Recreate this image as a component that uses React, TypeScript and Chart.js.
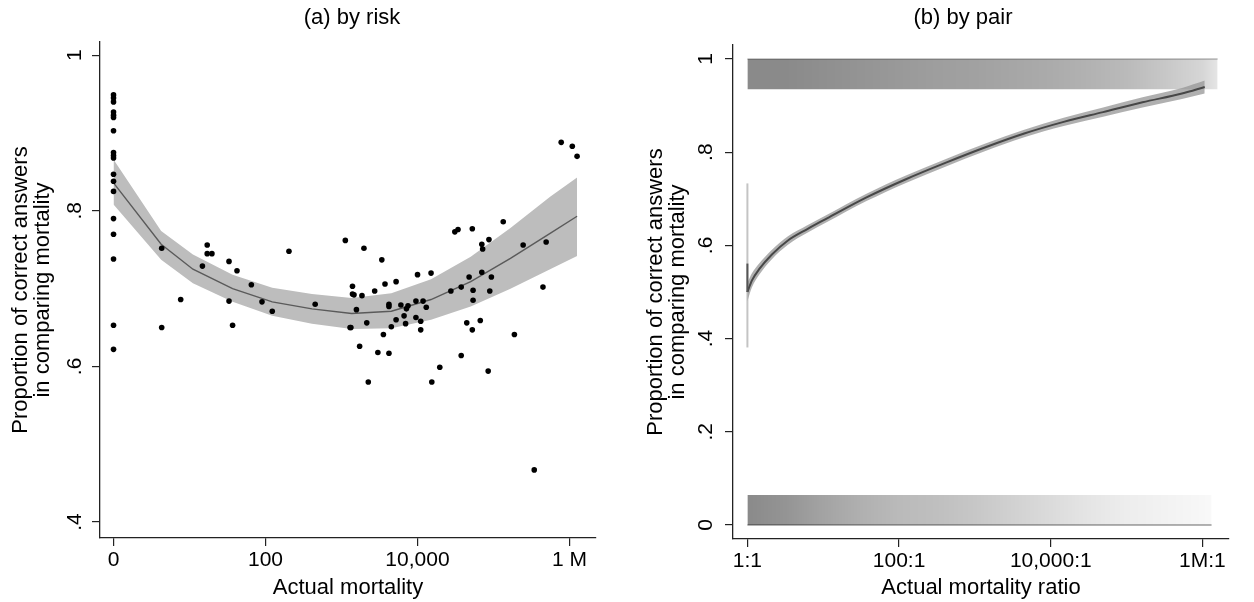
import React, { useEffect, useRef } from "react";
import { Chart, registerables } from "chart.js";

Chart.register(...registerables);

// ---------- Panel (a): by risk ----------
// x = log10(actual mortality + 1), y = proportion correct
const riskLogMortality = [
  0, 0, 0, 0, 0, 0, 0, 0, 0, 0, 0, 0, 0, 0, 0, 0, 0, 0,
  0.634, 0.634, 0.884, 1.17, 1.233, 1.233, 1.295, 1.52, 1.52, 1.567, 1.625, 1.814, 1.954, 2.089, 2.309, 2.654, 3.051,
  3.296, 3.531, 3.145, 3.145, 3.165, 3.27, 3.197, 3.437, 3.573, 3.719, 4.001, 4.179, 3.625, 3.625, 3.782, 3.855, 3.876, 3.98,
  4.074, 4.116, 3.824, 3.98, 4.043, 4.043, 3.844, 3.719, 3.656, 3.552, 3.333, 3.113, 3.124, 3.239, 3.479, 3.625, 3.353, 4.189,
  4.294, 4.576, 4.931, 5.276, 4.649, 4.722, 4.827, 4.44, 4.576, 4.68, 4.847, 4.973, 4.732, 4.732, 4.952, 4.492, 4.534, 4.722,
  4.847, 4.858, 4.941, 5.129, 5.391, 5.694, 5.652, 5.892, 6.038, 6.101, 5.537,
];
const riskProportion = [
  0.949, 0.945, 0.94, 0.927, 0.923, 0.92, 0.903, 0.875, 0.871, 0.868, 0.847, 0.838, 0.825, 0.79, 0.77, 0.738, 0.653, 0.622,
  0.752, 0.65, 0.686, 0.729, 0.756, 0.745, 0.745, 0.735, 0.684, 0.653, 0.723, 0.705, 0.683, 0.671, 0.748, 0.68, 0.762,
  0.752, 0.737, 0.703, 0.693, 0.692, 0.691, 0.673, 0.697, 0.706, 0.709, 0.718, 0.72, 0.68, 0.677, 0.679, 0.674, 0.678, 0.684,
  0.684, 0.676, 0.665, 0.663, 0.658, 0.647, 0.655, 0.66, 0.651, 0.641, 0.656, 0.65, 0.65, 0.626, 0.618, 0.617, 0.58, 0.58,
  0.599, 0.614, 0.594, 0.641, 0.656, 0.647, 0.659, 0.697, 0.702, 0.715, 0.721, 0.715, 0.698, 0.685, 0.697, 0.773, 0.776, 0.777,
  0.757, 0.751, 0.763, 0.786, 0.756, 0.76, 0.702, 0.888, 0.883, 0.87, 0.467,
];
const riskFitX = [0, 0.627, 1.045, 1.567, 2.089, 2.612, 3.134, 3.656, 4.179, 4.701, 5.224, 5.746, 6.101];
const riskFitY = [0.836, 0.757, 0.725, 0.7, 0.683, 0.674, 0.668, 0.671, 0.686, 0.709, 0.739, 0.771, 0.793];
const riskFitLo = [0.808, 0.737, 0.707, 0.683, 0.665, 0.655, 0.648, 0.649, 0.66, 0.677, 0.7, 0.725, 0.742];
const riskFitHi = [0.866, 0.774, 0.744, 0.718, 0.701, 0.693, 0.688, 0.694, 0.712, 0.741, 0.778, 0.818, 0.843];
const riskXTickValues = [0, 2, 4, 6];
const riskXTickLabels = ["0", "100", "10,000", "1 M"];
const riskYTickValues = [0.4, 0.6, 0.8, 1];
const riskYTickLabels = [".4", ".6", ".8", "1"];

// ---------- Panel (b): by pair ----------
// x = log10(actual mortality ratio)
const pairFitX = [0, 0.06, 0.16, 0.32, 0.53, 0.79, 1.05, 1.57, 2.09, 2.61, 3.13, 3.65, 4.17, 4.69, 5.21, 5.73, 6.03];
const pairFitY = [0.5, 0.525, 0.55, 0.58, 0.61, 0.635, 0.658, 0.703, 0.742, 0.777, 0.81, 0.84, 0.865, 0.886, 0.907, 0.926, 0.94];
const pairFitLo = [0.48, 0.51, 0.538, 0.57, 0.601, 0.627, 0.65, 0.695, 0.734, 0.769, 0.802, 0.832, 0.856, 0.876, 0.896, 0.914, 0.926];
const pairFitHi = [0.52, 0.54, 0.562, 0.59, 0.619, 0.643, 0.666, 0.711, 0.75, 0.785, 0.818, 0.848, 0.874, 0.896, 0.918, 0.938, 0.954];
const pairSameCI = [0.381, 0.733];
const pairSameFit = [0.5, 0.561];
// jittered individual answers, summarised as darkness (0..1) of the point cloud along x
const answerDensityX = [0, 0.5, 1, 1.5, 2, 2.5, 3, 3.5, 4, 4.5, 5, 5.5, 6, 6.2];
const correctDensity = [0.46, 0.46, 0.44, 0.42, 0.4, 0.38, 0.37, 0.35, 0.33, 0.3, 0.27, 0.22, 0.16, 0.1];
const wrongDensity = [0.46, 0.42, 0.36, 0.31, 0.27, 0.25, 0.22, 0.18, 0.14, 0.1, 0.07, 0.05, 0.03, 0.02];
const correctBand = [0.935, 1.0];
const wrongBand = [0.0, 0.0645];
const correctExtent = [0, 6.2];
const wrongExtent = [0, 6.12];
const pairXTickValues = [0, 2, 4, 6];
const pairXTickLabels = ["1:1", "100:1", "10,000:1", "1M:1"];
const pairYTickValues = [0, 0.2, 0.4, 0.6, 0.8, 1];
const pairYTickLabels = ["0", ".2", ".4", ".6", ".8", "1"];

const FONT = '"Liberation Sans", Arial, sans-serif';
const TICK_FS = 21;
const TITLE_FS = 22;

const panelText = {
  id: "panelText",
  afterDraw(chart: any, _args: any, opts: any) {
    const { ctx, chartArea, scales } = chart;
    ctx.save();
    ctx.fillStyle = "#000";
    ctx.textAlign = "center";
    ctx.textBaseline = "middle";
    ctx.font = `${TITLE_FS}px ${FONT}`;
    ctx.fillText(opts.title, (chartArea.left + chartArea.right) / 2 + (opts.titleDx || 0), opts.titleY);
    ctx.font = `${TICK_FS}px ${FONT}`;
    const ys = scales.y;
    opts.yValues.forEach((v: number, i: number) => {
      const py = ys.getPixelForValue(v);
      ctx.save();
      ctx.translate(chartArea.left - opts.yLabelOffset, py);
      ctx.rotate(-Math.PI / 2);
      ctx.fillText(opts.yLabels[i], 0, 0);
      ctx.restore();
    });
    ctx.restore();
  },
};

function densityFill(density: number[]) {
  return (c: any) => {
    const chart = c.chart;
    const xs = chart.scales && chart.scales.x;
    if (!chart.chartArea || !xs) return `rgba(0,0,0,${density[0]})`;
    const g = chart.ctx.createLinearGradient(xs.left, 0, xs.right, 0);
    const w = xs.right - xs.left;
    answerDensityX.forEach((v, i) => {
      const p = Math.min(1, Math.max(0, (xs.getPixelForValue(v) - xs.left) / w));
      g.addColorStop(p, `rgba(0,0,0,${density[i]})`);
    });
    return g;
  };
}

function axisCommon(tickValues: number[], labels: string[] | null) {
  return {
    type: "linear",
    offset: false,
    grid: { drawOnChartArea: false, drawTicks: true, tickLength: 8, color: "#222", lineWidth: 1.2, offset: false },
    border: { display: true, color: "#222", width: 1.3 },
    afterBuildTicks: (scale: any) => {
      scale.ticks = tickValues.map((v) => ({ value: v }));
    },
    ticks: labels
      ? {
          display: true,
          color: "#000",
          font: { size: TICK_FS, family: FONT },
          padding: 2,
          maxRotation: 0,
          minRotation: 0,
          callback: (v: any) => {
            const i = tickValues.indexOf(Number(v));
            return i >= 0 ? labels[i] : "";
          },
        }
      : { display: false },
  };
}

const yTitleText = ["Proportion of correct answers", "in comparing mortality"];

function riskConfig(): any {
  const scatterData = riskLogMortality.map((x, i) => ({ x, y: riskProportion[i] }));
  const fit = riskFitX.map((x, i) => ({ x, y: riskFitY[i] }));
  const lo = riskFitX.map((x, i) => ({ x, y: riskFitLo[i] }));
  const hi = riskFitX.map((x, i) => ({ x, y: riskFitHi[i] }));
  return {
    type: "line",
    data: {
      datasets: [
        { type: "scatter", data: scatterData, pointRadius: 2.8, pointBackgroundColor: "#000", pointBorderWidth: 0, showLine: false },
        { data: fit, borderColor: "#5a5a5a", borderWidth: 1.4, pointRadius: 0, tension: 0, fill: false },
        { data: hi, borderWidth: 0, pointRadius: 0, tension: 0, fill: 3, backgroundColor: "#bdbdbd", borderColor: "rgba(0,0,0,0)" },
        { data: lo, borderWidth: 0, pointRadius: 0, tension: 0, fill: false, borderColor: "rgba(0,0,0,0)" },
      ],
    },
    options: {
      animation: false,
      responsive: false,
      layout: { padding: { top: 42, right: 31, left: 0, bottom: 0 } },
      plugins: {
        legend: { display: false },
        tooltip: { enabled: false },
        panelText: { title: "(a) by risk", titleY: 18, titleDx: 4, yValues: riskYTickValues, yLabels: riskYTickLabels, yLabelOffset: 25 },
      },
      scales: {
        x: {
          ...axisCommon(riskXTickValues, riskXTickLabels),
          min: -0.178,
          max: 6.35,
          title: { display: true, text: "Actual mortality", color: "#000", font: { size: TITLE_FS, family: FONT, lineHeight: 1 }, padding: { top: 0, bottom: 3 } },
          afterFit: (s: any) => { s.height = 64; },
        },
        y: {
          ...axisCommon(riskYTickValues, null),
          min: 0.3795,
          max: 1.017,
          title: {
            display: true,
            text: yTitleText,
            color: "#000",
            font: { size: TITLE_FS, family: FONT, lineHeight: 1.0 },
            padding: { top: 10, bottom: 0 },
          },
          afterFit: (s: any) => { s.width = 100; },
        },
      },
    },
    plugins: [panelText],
  };
}

function pairConfig(): any {
  const fit = pairFitX.map((x, i) => ({ x, y: pairFitY[i] }));
  const lo = pairFitX.map((x, i) => ({ x, y: pairFitLo[i] }));
  const hi = pairFitX.map((x, i) => ({ x, y: pairFitHi[i] }));
  const topHi = correctExtent.map((x) => ({ x, y: correctBand[1] }));
  const topLo = correctExtent.map((x) => ({ x, y: correctBand[0] }));
  const botHi = wrongExtent.map((x) => ({ x, y: wrongBand[1] }));
  const botLo = wrongExtent.map((x) => ({ x, y: wrongBand[0] }));
  const invisible = "rgba(0,0,0,0)";
  return {
    type: "line",
    data: {
      datasets: [
        // 0
        { data: [{ x: 0, y: pairSameFit[0] }, { x: 0, y: pairSameFit[1] }], borderColor: "#555", borderWidth: 2, pointRadius: 0 },
        // 1
        { data: fit, borderColor: "#474747", borderWidth: 2, pointRadius: 0, cubicInterpolationMode: "monotone", fill: false },
        // 2,3 confidence band
        { data: hi, borderWidth: 0, pointRadius: 0, cubicInterpolationMode: "monotone", fill: 3, backgroundColor: "rgba(150,150,150,0.75)", borderColor: invisible },
        { data: lo, borderWidth: 0, pointRadius: 0, cubicInterpolationMode: "monotone", fill: false, borderColor: invisible },
        // 4
        { data: [{ x: 0, y: pairSameCI[0] }, { x: 0, y: pairSameCI[1] }], borderColor: "#c4c4c4", borderWidth: 2, pointRadius: 0 },
        // 5,6 correct answers cloud
        { data: topHi, borderColor: "rgba(0,0,0,0.4)", borderWidth: 1.2, pointRadius: 0, fill: 6, backgroundColor: densityFill(correctDensity) },
        { data: topLo, borderColor: invisible, borderWidth: 0, pointRadius: 0, fill: false },
        // 7,8 wrong answers cloud
        { data: botLo, borderColor: "rgba(0,0,0,0.4)", borderWidth: 1.5, pointRadius: 0, fill: 8, backgroundColor: densityFill(wrongDensity) },
        { data: botHi, borderColor: invisible, borderWidth: 0, pointRadius: 0, fill: false },
      ],
    },
    options: {
      animation: false,
      responsive: false,
      layout: { padding: { top: 45, right: 25, left: 0, bottom: 0 } },
      plugins: {
        legend: { display: false },
        tooltip: { enabled: false },
        panelText: { title: "(b) by pair", titleY: 18, titleDx: -18, yValues: pairYTickValues, yLabels: pairYTickLabels, yLabelOffset: 27 },
      },
      scales: {
        x: {
          ...axisCommon(pairXTickValues, pairXTickLabels),
          min: -0.19,
          max: 6.35,
          title: { display: true, text: "Actual mortality ratio", color: "#000", font: { size: TITLE_FS, family: FONT, lineHeight: 1 }, padding: { top: 0, bottom: 3 } },
          afterFit: (s: any) => { s.height = 63; },
        },
        y: {
          ...axisCommon(pairYTickValues, null),
          min: -0.03,
          max: 1.03,
          title: {
            display: true,
            text: yTitleText,
            color: "#000",
            font: { size: TITLE_FS, family: FONT, lineHeight: 1.0 },
            padding: { top: 18, bottom: 0 },
          },
          afterFit: (s: any) => { s.width = 106; },
        },
      },
    },
    plugins: [panelText],
  };
}

function Panel({ make, left }: { make: () => any; left: number }) {
  const ref = useRef<HTMLCanvasElement | null>(null);
  useEffect(() => {
    if (!ref.current) return;
    const chart = new Chart(ref.current, make());
    return () => chart.destroy();
  }, [make]);
  return (
    <div style={{ position: "absolute", left, top: 0, width: 627, height: 602 }}>
      <canvas ref={ref} width={627} height={602} style={{ width: 627, height: 602, display: "block" }} />
    </div>
  );
}

export default function App() {
  return (
    <div style={{ position: "absolute", left: 0, top: 0, width: 1254, height: 602, background: "#fff", overflow: "hidden" }}>
      <Panel make={riskConfig} left={0} />
      <Panel make={pairConfig} left={627} />
    </div>
  );
}
